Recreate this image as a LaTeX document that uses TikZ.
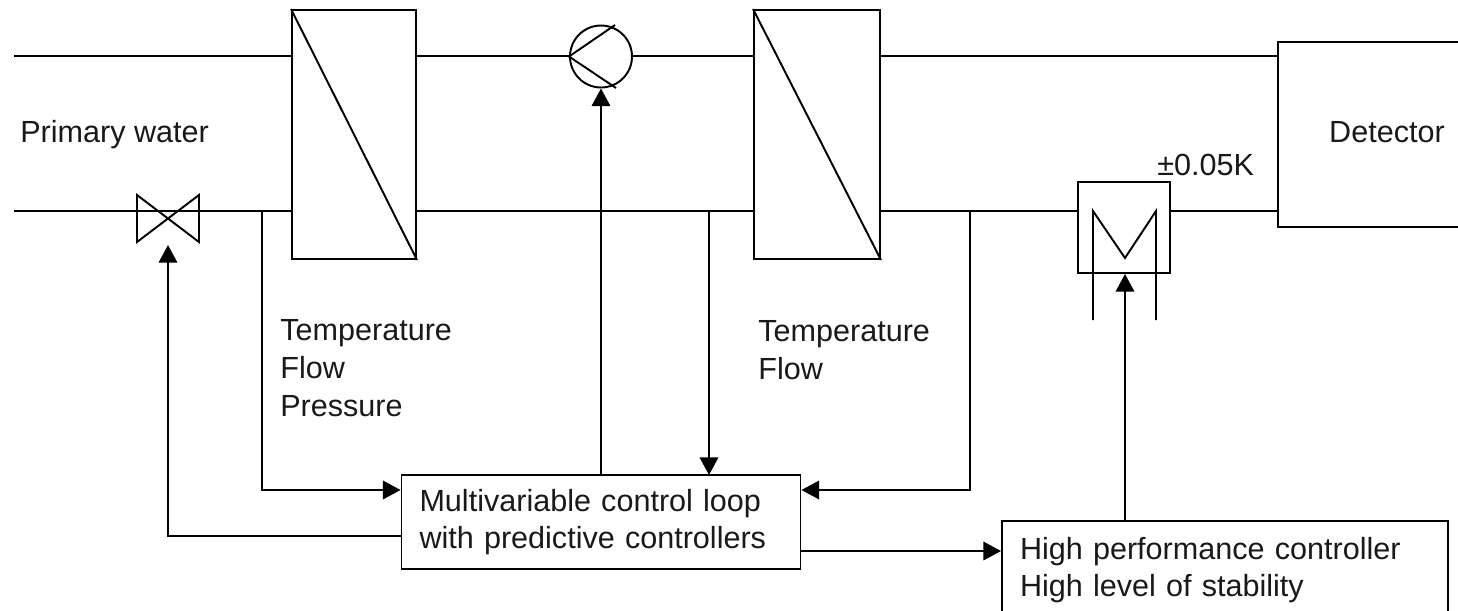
\documentclass[tikz,border=0pt]{standalone}
\usepackage{fontspec}
\setmainfont{Liberation Sans}
\usetikzlibrary{arrows.meta}
\def\u{0.02cm}
\tikzset{
  pipe/.style={line width=1.1pt},
  signal/.style={line width=1.1pt, -{Triangle[length=10pt,width=10.5pt]}},
  block/.style={draw, line width=1.1pt, rectangle, inner sep=0pt},
  label/.style={anchor=west, inner sep=0pt, font=\fontsize{17.4}{21.5}\selectfont, align=left, text=black!90},
}
\begin{document}
\begin{tikzpicture}[x=\u,y=-\u]
    \clip (0,0) rectangle (1458,610);
    % pipe levels and free ends
    \coordinate (topin) at (14,56);
    \coordinate (botin) at (14,211);
    % exchangers, pump, heater
    \node[block, minimum width=124*\u, minimum height=249*\u] (hxa) at (354,134.5) {};
    \node[block, minimum width=126*\u, minimum height=249*\u] (hxb) at (817,134.5) {};
    \draw[pipe] (hxa.north west) -- (hxa.south east);
    \draw[pipe] (hxb.north west) -- (hxb.south east);
    \node[block, circle, minimum size=62*\u] (pump) at (601,56.5) {};
    \coordinate (pumpa) at (615,25);
    \coordinate (pumpb) at (616,88);
    \draw[pipe] (pumpa) -- (pump.west) -- (pumpb);
    \node[block, minimum width=92*\u, minimum height=91*\u] (heat) at (1124,227.5) {};
    \coordinate (heatl) at (1093,320);
    \coordinate (heatm) at (1125,258);
    \coordinate (heatr) at (1156,320);
    \draw[pipe] (heatl) -- (heatl |- botin) -- (heatm) -- (heatr |- botin) -- (heatr);
    % valve
    \coordinate (vlv) at (168,245);
    \draw[pipe] (137,195) -- (199,242) -- (199,195) -- (137,242) -- cycle;
    % boxes, the detector and the stability box run off the page
    \node[block, minimum width=218*\u, minimum height=185*\u] (det) at (1387,134.5) {};
    \node[label, anchor=center] (dettxt) at (1387,132) {Detector};
    \node[block, label, anchor=center, text width=363*\u, inner xsep=18*\u, minimum height=94*\u] (ctrl) at (601,522)
      {Multivariable control loop\\with predictive controllers};
    \node[block, label, anchor=center, text width=410*\u, inner xsep=18*\u, minimum height=98*\u] (stab) at (1225,570)
      {High performance controller\\High level of stability};
    % texts
    \node[label] (prim) at (20,135) {Primary water};
    \node[label] (meas) at (280,368) {Temperature\\Flow\\Pressure};
    \node[label] (measb) at (758,350) {Temperature\\Flow};
    \node[label] (tol) at (1157,165) {±0.05K};
    % top line
    \draw[pipe] (topin) -- (hxa.west |- topin);
    \draw[pipe] (hxa.east |- topin) -- (pump.west |- topin);
    \draw[pipe] (pump.east |- topin) -- (hxb.west |- topin);
    \draw[pipe] (hxb.east |- topin) -- (det.west |- topin);
    % bottom line
    \draw[pipe] (botin) -- (hxa.west |- botin);
    \draw[pipe] (hxa.east |- botin) -- (hxb.west |- botin);
    \draw[pipe] (hxb.east |- botin) -- (heat.west |- botin);
    \draw[pipe] (heat.east |- botin) -- (det.west |- botin);
    % signals
    \coordinate (tapa) at (262,490);
    \coordinate (tapb) at (970,490);
    \draw[signal] (tapa |- botin) -- (tapa) -- (ctrl.west |- tapa);
    \draw[signal] (tapb |- botin) -- (tapb) -- (ctrl.east |- tapb);
    \draw[signal] (709,211) -- (709,475);
    \draw[signal] (ctrl.north) -- (pump.south);
    \draw[signal] (ctrl.west |- 0,536) -- (vlv |- 0,536) -- (vlv);
    \draw[signal] (ctrl.east |- 0,551) -- (stab.west |- 0,551);
    \draw[signal] (stab.north -| heatm) -- (heat.south -| heatm);
\end{tikzpicture}
\end{document}
